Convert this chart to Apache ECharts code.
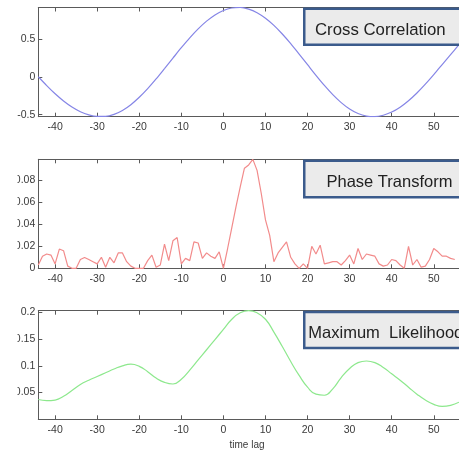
<!DOCTYPE html>
<html>
<head>
<meta charset="utf-8">
<script src="https://cdn.jsdelivr.net/npm/echarts@6/dist/echarts.min.js"></script>
<style>html,body{margin:0;padding:0;background:#fff;}#c{width:459px;height:450px;}</style>
</head>
<body>
<div id="c"></div>
<script>
// ---- data ----
const xTicks = [-40, -30, -20, -10, 0, 10, 20, 30, 40, 50];

const lags1 = [-44,-42,-40,-38,-36,-34,-32,-30,-28,-26,-24,-22,-20,-18,-16,-14,-12,-10,-8,-6,-4,-2,0,2,4,6,8,10,12,14,16,18,20,22,24,26,28,30,32,34,36,38,40,42,44,46,48,50,52,54,56];
const crossCorr = [0.0,-0.116,-0.224,-0.319,-0.398,-0.460,-0.502,-0.523,-0.522,-0.496,-0.444,-0.368,-0.270,-0.156,-0.028,0.108,0.246,0.383,0.513,0.631,0.733,0.815,0.873,0.906,0.913,0.892,0.845,0.772,0.678,0.564,0.437,0.299,0.159,0.019,-0.114,-0.235,-0.340,-0.424,-0.484,-0.518,-0.525,-0.507,-0.465,-0.400,-0.315,-0.213,-0.097,0.029,0.161,0.293,0.423];
const yTicks1 = [-0.5, 0, 0.5];

const lags2 = [-44,-43,-42,-41,-40,-39,-38,-37,-36,-35,-34,-33,-32,-31,-30,-29,-28,-27,-26,-25,-24,-23,-22,-21,-20,-19,-18,-17,-16,-15,-14,-13,-12,-11,-10,-9,-8,-7,-6,-5,-4,-3,-2,-1,0,1,2,3,4,5,6,7,8,9,10,11,12,13,14,15,16,17,18,19,20,21,22,23,24,25,26,27,28,29,30,31,32,33,34,35,36,37,38,39,40,41,42,43,44,45,46,47,48,49,50,51,52,53,54,55];
const phaseTransform = [0.003,0.011,0.013,0.012,0.004,0.0175,0.016,0.002,0.0,0.0,0.008,0.0098,0.008,0.006,0.004,0.010,0.001,0.010,0.005,0.014,0.014,0.006,0.002,0.0,0.0,0.0,0.007,0.012,0.001,0.003,0.022,0.007,0.025,0.028,0.004,0.009,0.007,0.024,0.023,0.009,0.014,0.011,0.009,0.015,0.0,0.018,0.037,0.056,0.074,0.091,0.094,0.099,0.089,0.068,0.044,0.030,0.006,0.014,0.019,0.024,0.010,0.004,0.0,0.004,0.0,0.020,0.013,0.021,0.004,0.005,0.006,0.006,0.003,0.007,0.012,0.004,0.018,0.008,0.013,0.012,0.011,0.004,0.002,0.003,0.008,0.007,0.003,0.0,0.020,0.003,0.008,0.001,0.002,0.008,0.018,0.015,0.011,0.011,0.009,0.008];
const yTicks2 = [0, 0.02, 0.04, 0.06, 0.08];

const lags3 = [-44,-42,-40,-38,-36,-34,-32,-30,-28,-26,-24,-22,-20,-18,-16,-14,-12,-10,-8,-6,-4,-2,0,2,4,6,8,10,12,14,16,18,20,22,24,26,28,30,32,34,36,38,40,42,44,46,48,50,52,54,56];
const maxLikelihood = [0.037,0.035,0.036,0.043,0.054,0.065,0.073,0.080,0.087,0.094,0.100,0.103,0.099,0.089,0.077,0.069,0.066,0.075,0.092,0.111,0.130,0.149,0.168,0.187,0.199,0.203,0.199,0.187,0.163,0.136,0.108,0.082,0.060,0.047,0.045,0.057,0.078,0.095,0.106,0.109,0.106,0.097,0.085,0.073,0.060,0.047,0.036,0.028,0.024,0.026,0.032];
const yTicks3 = [0.05, 0.1, 0.15, 0.2];

const panelTitles = ['Cross Correlation', 'Phase Transform', 'Maximum  Likelihood'];
const xLabel = 'time lag';

// ---- chart ----
const chart = echarts.init(document.getElementById('c'));
const FONT = "'Liberation Sans', Arial, sans-serif";
const AX = '#5a5a5a';
const LBL = '#3a3a3a';

const panels = [
  {top: 7.5, height: 109.2, min: -0.526, max: 0.913, yt: yTicks1, x: lags1, y: crossCorr, color: '#8585e6', smooth: 0.3},
  {top: 159.3, height: 109.0, min: 0, max: 0.0991, yt: yTicks2, x: lags2, y: phaseTransform, color: '#f28b8b', smooth: false},
  {top: 310.7, height: 108.6, min: 0, max: 0.203, yt: yTicks3, x: lags3, y: maxLikelihood, color: '#8de88d', smooth: 0.5}
];

const grid = [], xAxis = [], yAxis = [], series = [];
panels.forEach((p, i) => {
  grid.push({left: 38.3, width: 425, top: p.top, height: p.height, show: false});
  xAxis.push({
    type: 'value', gridIndex: i, min: -44, max: 56, position: 'bottom',
    axisLine: {show: true, onZero: false, lineStyle: {color: AX, width: 1}},
    axisTick: {show: true, inside: true, length: 4, customValues: xTicks, lineStyle: {color: AX}},
    axisLabel: {show: true, customValues: xTicks, margin: 5, fontSize: 10.5, fontFamily: FONT, color: LBL},
    splitLine: {show: false}
  });
  xAxis.push({
    type: 'value', gridIndex: i, min: -44, max: 56, position: 'top',
    axisLine: {show: true, onZero: false, lineStyle: {color: AX, width: 1}},
    axisTick: {show: true, inside: true, length: 4, customValues: xTicks, lineStyle: {color: AX}},
    axisLabel: {show: false},
    splitLine: {show: false}
  });
  yAxis.push({
    type: 'value', gridIndex: i, min: p.min, max: p.max,
    axisLine: {show: true, onZero: false, lineStyle: {color: AX, width: 1}},
    axisTick: {show: true, inside: true, length: 4, customValues: p.yt, lineStyle: {color: AX}},
    axisLabel: {show: true, customValues: p.yt, margin: 3, fontSize: 10.5, fontFamily: FONT, color: LBL,
      formatter: v => String(v)},
    splitLine: {show: false}
  });
  series.push({
    type: 'line', xAxisIndex: i * 2, yAxisIndex: i,
    data: p.x.map((v, k) => [v, p.y[k]]),
    showSymbol: false, smooth: p.smooth, clip: true,
    lineStyle: {color: p.color, width: 1.2},
    silent: true, animation: false
  });
});

const boxes = [
  {y: 7.5, h: 36, tx: 315, ty: 30.5, fs: 16.8},
  {y: 159.5, h: 36.5, tx: 326.5, ty: 182.5, fs: 16.5},
  {y: 310.8, h: 36, tx: 308.3, ty: 333.5, fs: 16.5}
];
const graphic = [];
boxes.forEach((b, i) => {
  graphic.push({type: 'rect', left: 303, top: b.y, shape: {x: 0, y: 0, width: 200, height: b.h},
    style: {fill: '#ebebeb', stroke: '#3b5b8c', lineWidth: 2.5}, z: 10});
  graphic.push({type: 'text', x: b.tx, y: b.ty, z: 11,
    style: {text: panelTitles[i], fontSize: b.fs, fontFamily: FONT, fill: '#222', verticalAlign: 'middle', align: 'left'}});
});
graphic.push({type: 'text', x: 247, y: 445, z: 11,
  style: {text: xLabel, fontSize: 10, fontFamily: FONT, fill: LBL, align: 'center', verticalAlign: 'middle'}});
// cropped left margin of the original picture
graphic.push({type: 'rect', left: 0, top: 150, shape: {x: 0, y: 0, width: 17.5, height: 300},
  style: {fill: '#ffffff'}, z: 20});

chart.setOption({animation: false, grid, xAxis, yAxis, series, graphic});
</script>
</body>
</html>
